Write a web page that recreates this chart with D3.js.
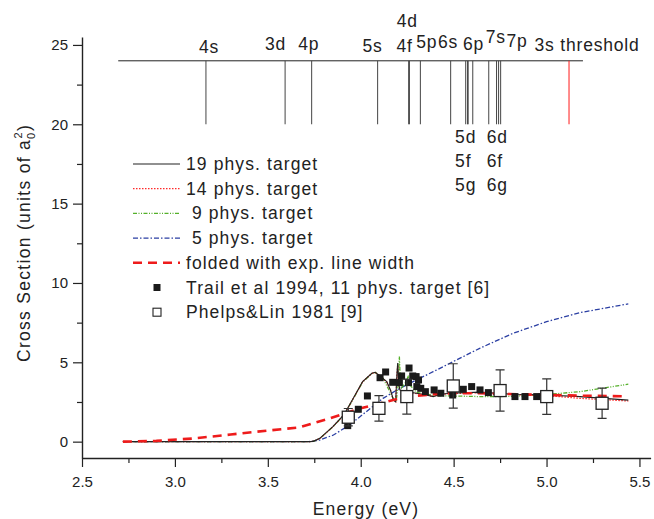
<!DOCTYPE html>
<html>
<head>
<meta charset="utf-8">
<script src="https://cdn.jsdelivr.net/npm/d3@7"></script>
<style>
	body { margin: 0; background: #fff; }
	svg { display: block; }
	text { font-family: "Liberation Sans", Arial, sans-serif; fill: #222; }
</style>
</head>
<body>
<div id="app"></div>
<script>
// axis ticks
const xTicks = [2.5, 3.0, 3.5, 4.0, 4.5, 5.0, 5.5];
const xMinorTicks = [2.75, 3.25, 3.75, 4.25, 4.75, 5.25];
const yTicks = [0, 5, 10, 15, 20, 25];
const yMinorTicks = [2.5, 7.5, 12.5, 17.5, 22.5];

// calculated cross sections [energy eV, sigma]
const target19 = [[2.72,0],[3.72,0],[3.745,0.02],[3.78,0.21],[3.85,0.95],[3.91,1.7],[3.96,2.73],[4.01,3.78],[4.06,4.31],[4.078,4.37],[4.10,4.17],[4.14,3.78],[4.16,3.26],[4.176,2.63],[4.188,2.52],[4.195,4.31],[4.199,4.95],[4.204,3.68],[4.211,3.26],[4.25,3.15],[4.30,3.05],[4.355,2.94],[4.39,2.84],[4.43,2.99],[4.48,3.05],[4.64,3.12],[4.8,3.0],[5.0,2.94],[5.18,2.84],[5.44,2.62]];
const target14 = [[2.72,0],[3.72,0],[3.745,0.02],[3.78,0.2],[3.85,0.94],[3.91,1.69],[3.96,2.72],[4.01,3.77],[4.06,4.3],[4.078,4.36],[4.10,4.16],[4.14,3.76],[4.16,3.24],[4.176,2.62],[4.188,2.52],[4.195,4.2],[4.199,4.8],[4.204,3.6],[4.211,3.24],[4.25,3.12],[4.30,3.03],[4.355,2.93],[4.39,2.85],[4.43,2.98],[4.48,3.03],[4.64,3.08],[4.8,2.98],[5.0,2.9],[5.18,2.73],[5.44,2.56]];
const target9 = [[2.72,0],[3.72,0],[3.745,0.02],[3.78,0.2],[3.85,0.93],[3.91,1.68],[3.96,2.7],[4.01,3.75],[4.06,4.3],[4.078,4.36],[4.10,4.2],[4.12,4.0],[4.15,3.3],[4.18,2.6],[4.19,2.5],[4.2,3.4],[4.205,4.6],[4.208,5.36],[4.212,4.2],[4.22,3.4],[4.24,3.7],[4.255,4.1],[4.27,3.5],[4.3,3.1],[4.4,2.9],[4.64,2.84],[4.8,2.85],[5.0,2.97],[5.18,3.15],[5.44,3.62]];
const target5 = [[2.72,0],[3.72,0],[3.78,0.1],[3.853,0.42],[3.94,1.05],[4.03,1.89],[4.12,2.73],[4.21,3.36],[4.30,3.89],[4.39,4.41],[4.48,4.94],[4.64,5.88],[4.82,6.83],[5.0,7.56],[5.18,8.13],[5.44,8.68]];
const folded = [[2.72,0],[2.9,0.05],[3.1,0.2],[3.3,0.45],[3.5,0.7],[3.67,0.9],[3.745,1.16],[3.835,1.47],[3.925,1.83],[4.0,2.1],[4.07,2.31],[4.14,2.52],[4.21,2.73],[4.3,2.88],[4.39,2.99],[4.48,3.05],[4.64,3.05],[4.8,3.0],[5.0,2.94],[5.18,2.9],[5.42,2.86]];

// measurements
const trail1994 = [[3.930,1.01],[3.987,2.04],[4.036,2.88],[4.104,4.03],[4.134,4.39],[4.172,3.74],[4.208,3.72],[4.220,4.14],[4.260,4.64],[4.257,3.72],[4.280,4.14],[4.298,4.10],[4.311,3.89],[4.302,3.47],[4.323,3.36],[4.348,3.15],[4.395,3.26],[4.431,3.05],[4.495,2.94],[4.552,3.3],[4.597,3.47],[4.642,3.26],[4.687,3.09],[4.83,2.84],[4.884,2.84],[4.947,2.84]];
// [energy, sigma, error]
const phelpsLin1981 = [[3.933,1.54,0.55],[4.098,2.1,0.8],[4.248,2.84,1.1],[4.498,3.51,1.4],[4.750,3.22,1.3],[5.001,2.84,1.12],[5.299,2.42,0.95]];

// level diagram
const levelLineSpan = [2.695, 5.196];
const levelTop = 24;
const levelBottom = 20;
const levels = [["4s",3.167],["3d",3.593],["4p",3.736],["5s",4.091],["4d",4.258],["4f",4.262],["5p",4.321],["6s",4.484],["5d",4.565],["5f",4.575],["5g",4.578],["6p",4.603],["7s",4.689],["6d",4.731],["6f",4.742],["7p",4.753],["3s threshold",5.121]];
const levelLabels = [["4s",3.184,24.49],["3d",3.542,24.68],["4p",3.721,24.68],["5s",4.063,24.56],["4d",4.25,26.13],["4f",4.236,24.56],["5p",4.356,24.81],["6s",4.47,24.81],["6p",4.607,24.68],["7s",4.727,25.12],["7p",4.841,24.87],["3s threshold",5.218,24.62]];
const stackedLabels = [["5d",4.508,18.84],["5f",4.508,17.31],["5g",4.508,15.78],["6d",4.678,18.84],["6f",4.678,17.31],["6g",4.678,15.78]];

const legendNames = ["19 phys. target", "14 phys. target", "\u00a09 phys. target", "\u00a05 phys. target", "folded with exp. line width", "Trail et al 1994, 11 phys. target [6]", "Phelps&Lin 1981 [9]"];

const config = {
	width: 654,
	height: 519,
	font: "Liberation Sans, Arial, sans-serif"
};

const lineStyles = [
	{ data: target5, color: "#2b3fa3", width: 1.3, dash: "5,2,1.5,2" },
	{ data: target9, color: "#55b02a", width: 1.3, dash: "4,1.5,1,1.5,1,1.5" },
	{ data: target14, color: "#ff2a2a", width: 1.3, dash: "1.5,1.5" },
	{ data: target19, color: "#222", width: 1.1, dash: null },
	{ data: folded, color: "#ee1b1b", width: 2.6, dash: "9,6" }
];

const svg = d3.select("#app").append("svg")
	.attr("width", config.width)
	.attr("height", config.height);

const x = d3.scaleLinear().domain([2.5, 5.56]).range([82, 650.6]);
const y = d3.scaleLinear().domain([-1.03, 25.5]).range([458, 37]);

// axes
svg.append("g").attr("transform", "translate(0,458)")
	.call(d3.axisBottom(x).tickValues(xTicks).tickFormat(d3.format(".1f")).tickSize(9).tickSizeOuter(0).tickPadding(9));
svg.append("g").attr("transform", "translate(0,458)")
	.call(d3.axisBottom(x).tickValues(xMinorTicks).tickFormat("").tickSize(5).tickSizeOuter(0))
	.select(".domain").remove();

svg.append("g").attr("transform", "translate(82,0)")
	.call(d3.axisLeft(y).tickValues(yTicks).tickSize(9).tickSizeOuter(0).tickPadding(5));
svg.append("g").attr("transform", "translate(82,0)")
	.call(d3.axisLeft(y).tickValues(yMinorTicks).tickFormat("").tickSize(5).tickSizeOuter(0))
	.select(".domain").remove();

svg.selectAll(".tick line").attr("stroke", "#222").attr("stroke-width", 1.2);
svg.selectAll(".domain").attr("stroke", "#222").attr("stroke-width", 1.4);
svg.selectAll(".tick text").attr("font-size", 15).attr("font-family", config.font).attr("fill", "#222");

// axis titles
svg.append("text")
	.attr("x", 366).attr("y", 515)
	.attr("text-anchor", "middle")
	.attr("font-size", 17.5).attr("letter-spacing", 1.2)
	.text("Energy (eV)");

const yTitle = svg.append("text")
	.attr("transform", "translate(30,243) rotate(-90)")
	.attr("text-anchor", "middle")
	.attr("font-size", 17.5).attr("letter-spacing", 1.3);
yTitle.append("tspan").text("Cross Section (units of a");
yTitle.append("tspan").attr("font-size", 11).attr("dy", 5).text("0");
yTitle.append("tspan").attr("font-size", 11).attr("dx", -7).attr("dy", -13).text("2");
yTitle.append("tspan").attr("dy", 8).text(")");

// level diagram
svg.append("line")
	.attr("x1", x(levelLineSpan[0])).attr("x2", x(levelLineSpan[1]))
	.attr("y1", y(levelTop)).attr("y2", y(levelTop))
	.attr("stroke", "#222").attr("stroke-width", 1);

svg.append("g").selectAll("line")
	.data(levels)
	.enter()
	.append("line")
	.attr("x1", d => x(d[1])).attr("x2", d => x(d[1]))
	.attr("y1", y(levelTop)).attr("y2", y(levelBottom))
	.attr("stroke", d => d[0] == "3s threshold" ? "#ff1a1a" : "#444")
	.attr("stroke-width", 1);

svg.append("g").selectAll("text")
	.data(levelLabels)
	.enter()
	.append("text")
	.attr("x", d => x(d[1])).attr("y", d => y(d[2]))
	.attr("text-anchor", "middle")
	.attr("font-size", 17.5).attr("letter-spacing", 0.8)
	.text(d => d[0]);

svg.append("g").selectAll("text")
	.data(stackedLabels)
	.enter()
	.append("text")
	.attr("x", d => x(d[1])).attr("y", d => y(d[2]))
	.attr("font-size", 17.5).attr("letter-spacing", 0.8)
	.text(d => d[0]);

// curves
const line = d3.line().x(d => x(d[0])).y(d => y(d[1]));

svg.append("g").selectAll("path")
	.data(lineStyles)
	.enter()
	.append("path")
	.attr("d", d => line(d.data))
	.attr("fill", "none")
	.attr("stroke", d => d.color)
	.attr("stroke-width", d => d.width)
	.attr("stroke-dasharray", d => d.dash);

// Trail et al
svg.append("g").selectAll("rect")
	.data(trail1994)
	.enter()
	.append("rect")
	.attr("x", d => x(d[0]) - 3.5).attr("y", d => y(d[1]) - 3.5)
	.attr("width", 7).attr("height", 7)
	.attr("fill", "#1a1a1a");

// Phelps & Lin with error bars
const phelps = svg.append("g");
phelps.selectAll(".err")
	.data(phelpsLin1981)
	.enter()
	.append("path")
	.attr("d", d => {
		const cx = x(d[0]), t = y(d[1] + d[2]), b = y(d[1] - d[2]);
		return `M${cx - 4.5},${t}H${cx + 4.5}M${cx},${t}V${b}M${cx - 4.5},${b}H${cx + 4.5}`;
	})
	.attr("fill", "none").attr("stroke", "#333").attr("stroke-width", 1.2);
phelps.selectAll("rect")
	.data(phelpsLin1981)
	.enter()
	.append("rect")
	.attr("x", d => x(d[0]) - 6).attr("y", d => y(d[1]) - 6)
	.attr("width", 12).attr("height", 12)
	.attr("fill", "#fff").attr("stroke", "#222").attr("stroke-width", 1.3);

// legend
const legend = svg.append("g");
legendNames.forEach((name, i) => {
	const cy = 164 + 24.7 * i;
	if (i < lineStyles.length) {
		const st = lineStyles[[3, 2, 1, 0, 4][i]];
		legend.append("line")
			.attr("x1", 133).attr("x2", 180)
			.attr("y1", cy).attr("y2", cy)
			.attr("stroke", st.color)
			.attr("stroke-width", st.width)
			.attr("stroke-dasharray", st.dash);
	} else if (i == 5) {
		legend.append("rect")
			.attr("x", 153.5).attr("y", cy - 3.5)
			.attr("width", 7).attr("height", 7)
			.attr("fill", "#1a1a1a");
	} else {
		legend.append("rect")
			.attr("x", 153).attr("y", cy - 4)
			.attr("width", 8).attr("height", 8)
			.attr("fill", "#fff").attr("stroke", "#222").attr("stroke-width", 1.1);
	}
	legend.append("text")
		.attr("x", 186).attr("y", cy + 6)
		.attr("font-size", 17.5).attr("letter-spacing", 1.1)
		.text(name);
});
</script>
</body>
</html>
